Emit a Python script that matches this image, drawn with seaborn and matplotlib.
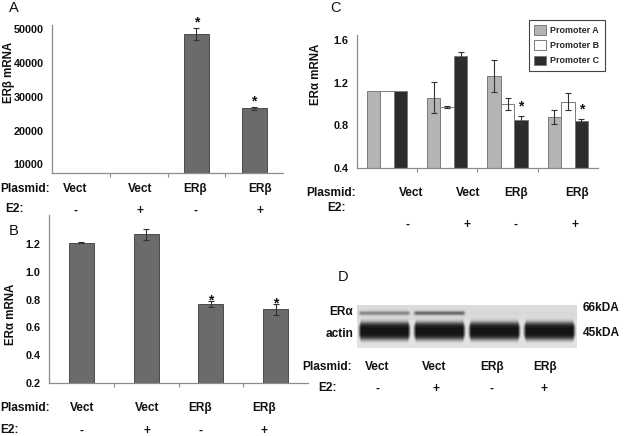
import numpy as np
import pandas as pd
import matplotlib
matplotlib.use("Agg")
import matplotlib.pyplot as plt
from matplotlib.ticker import FormatStrFormatter
from matplotlib.container import BarContainer
import seaborn as sns

# ---------------- data ----------------
conditions = ["Vect/-", "Vect/+", "ERβ/-", "ERβ/+"]
plasmid = ["Vect", "Vect", "ERβ", "ERβ"]
e2 = ["-", "+", "-", "+"]

# Panel A: ERβ mRNA
erb_mrna = [1, 1, 48500, 26600]
erb_err = [0, 0, 1800, 400]
erb_sig = [False, False, True, True]

# Panel B: ERα mRNA
era_mrna = [1.21, 1.27, 0.77, 0.73]
era_err = [0.003, 0.04, 0.02, 0.04]
era_sig = [False, False, True, True]

# Panel C: ERα promoter-specific mRNA
promoters = ["Promoter A", "Promoter B", "Promoter C"]
prom_a = [1.12, 1.06, 1.26, 0.88]
prom_b = [1.12, 0.97, 1.00, 1.02]
prom_c = [1.12, 1.45, 0.85, 0.84]
prom_a_err = [0, 0.145, 0.15, 0.067]
prom_b_err = [0, 0.01, 0.06, 0.08]
prom_c_err = [0, 0.035, 0.035, 0.015]
prom_c_sig = [False, False, True, True]

# Panel D: western blot band intensities (relative)
blot_rows = ["ERα", "actin"]
blot_markers = ["66kDA", "45kDA"]
blot_era = [0.45, 0.6, 0.03, 0.02]
blot_actin = [1.0, 1.0, 1.0, 1.0]

# ---------------- style ----------------
sns.set_theme(style="white")
plt.rcParams["font.family"] = ["Liberation Sans", "DejaVu Sans"]

W, H = 624, 436
fig = plt.figure(figsize=(W / 100, H / 100), dpi=100)
fig.patch.set_facecolor("white")

BAR = "#6b6b6b"
BAR_EDGE = "#4a4a4a"
SPINE = "#8c8c8c"
ERR = "#333333"
TXT = "#111111"
C_COLORS = ["#b4b4b4", "#ffffff", "#2c2c2c"]


def px_axes(l, t, r, b):
    return fig.add_axes([l / W, 1 - b / H, (r - l) / W, (b - t) / H])


def ftext(x, y, s, **kw):
    kw.setdefault("va", "center")
    kw.setdefault("color", TXT)
    fig.text(x / W, 1 - y / H, s, **kw)


def style_axes(ax, ylabel, lab_xy, ticks, fmt=None):
    for s in ["top", "right"]:
        ax.spines[s].set_visible(False)
    for s in ["left", "bottom"]:
        ax.spines[s].set_color(SPINE)
        ax.spines[s].set_linewidth(0.9)
    ax.set_xlabel("")
    ax.set_xlim(-0.5, 3.5)
    ax.set_xticks([0.5, 1.5, 2.5])
    ax.set_xticklabels([])
    ax.tick_params(axis="x", length=3, width=0.8, color=SPINE, direction="out", bottom=True)
    ax.set_yticks(ticks)
    if fmt:
        ax.yaxis.set_major_formatter(FormatStrFormatter(fmt))
    ax.tick_params(axis="y", length=0, pad=6, labelsize=7.8, labelcolor=TXT, left=False)
    for t in ax.get_yticklabels():
        t.set_fontweight("bold")
    ax.set_ylabel(ylabel, fontsize=8.3, fontweight="bold", color=TXT)
    ax.yaxis.set_label_coords(*lab_xy)
    ax.set_facecolor("white")


def add_errs(ax, xs, vals, errs):
    for x, v, e in zip(xs, vals, errs):
        if e > 0:
            ax.errorbar([x], [v], yerr=[e], fmt="none", ecolor=ERR,
                        elinewidth=0.8, capsize=2.2, capthick=0.8, zorder=5)


def add_stars(ax, xs, vals, errs, sig, dy):
    for x, v, e, s in zip(xs, vals, errs, sig):
        if s:
            ax.annotate("*", xy=(x, v + e), xytext=(0, dy), textcoords="offset points",
                        ha="center", va="baseline", fontsize=10, fontweight="bold",
                        color=TXT, annotation_clip=False)


def label_rows(xp, y1, y2, xs, plas_x, e2_x):
    ftext(plas_x, y1, "Plasmid:", fontsize=8.6, fontweight="bold", ha="left")
    ftext(e2_x, y2, "E2:", fontsize=8.6, fontweight="bold", ha="left")
    for x, p in zip(xs, plasmid):
        ftext(x, y1, p, fontsize=8.6, fontweight="bold", ha="center")
    for x, s in zip(xp, e2):
        ftext(x, y2 + 1, s, fontsize=8.6, fontweight="bold", ha="center")


# ---------------- Panel A ----------------
axA = px_axes(52, 25, 283, 173)
dfA = pd.DataFrame({"cond": conditions, "val": erb_mrna})
sns.barplot(data=dfA, x="cond", y="val", ax=axA, color=BAR, width=0.43,
            edgecolor=BAR_EDGE, linewidth=0.7, saturation=1, errorbar=None)
axA.set_ylim(7420, 51270)
style_axes(axA, "ERβ mRNA", (-0.16, 0.68), [10000, 20000, 30000, 40000, 50000])
xsA = [p.get_x() + p.get_width() / 2 for p in axA.patches]
add_errs(axA, xsA, erb_mrna, erb_err)
add_stars(axA, xsA, erb_mrna, erb_err, erb_sig, 1)
ftext(9, 8, "A", fontsize=10.5)
label_rows([75, 140, 195, 260], 188.5, 209.5, [75, 140, 195, 260], 0, 5)

# ---------------- Panel B ----------------
axB = px_axes(49, 215, 308, 383)
dfB = pd.DataFrame({"cond": conditions, "val": era_mrna})
sns.barplot(data=dfB, x="cond", y="val", ax=axB, color=BAR, width=0.386,
            edgecolor=BAR_EDGE, linewidth=0.7, saturation=1, errorbar=None)
axB.set_ylim(0.2, 1.41)
style_axes(axB, "ERα mRNA", (-0.124, 0.41), [0.2, 0.4, 0.6, 0.8, 1.0, 1.2], "%.1f")
xsB = [p.get_x() + p.get_width() / 2 for p in axB.patches]
add_errs(axB, xsB, era_mrna, era_err)
add_stars(axB, xsB, era_mrna, era_err, era_sig, -2.5)
ftext(9, 231, "B", fontsize=10.5)
label_rows([82, 147, 200, 264], 408, 430, [82, 147, 200, 264], 0, 0)

# ---------------- Panel C ----------------
axC = px_axes(356.7, 35, 598, 168)
dfC = pd.DataFrame({
    "cond": conditions * 3,
    "promoter": [p for p in promoters for _ in conditions],
    "val": prom_a + prom_b + prom_c,
})
sns.barplot(data=dfC, x="cond", y="val", hue="promoter", ax=axC, palette=C_COLORS,
            width=0.67, edgecolor="#7a7a7a", linewidth=0.7, saturation=1, errorbar=None)
axC.set_ylim(0.4, 1.647)
handles, labels = axC.get_legend_handles_labels()
if axC.get_legend() is not None:
    axC.get_legend().remove()
style_axes(axC, "ERα mRNA", (-0.144, 0.707), [0.4, 0.8, 1.2, 1.6], "%.1f")
series_vals = [prom_a, prom_b, prom_c]
series_errs = [prom_a_err, prom_b_err, prom_c_err]
bar_conts = [c for c in axC.containers if isinstance(c, BarContainer)]
for k, cont in enumerate(bar_conts):
    xs = [p.get_x() + p.get_width() / 2 for p in cont]
    add_errs(axC, xs, series_vals[k], series_errs[k])
    if k == 2:
        add_stars(axC, xs, prom_c, prom_c_err, prom_c_sig, 4)
leg = fig.legend(handles, labels, loc="upper left", bbox_to_anchor=(529 / W, 1 - 20 / H),
                 frameon=True, fancybox=False, edgecolor="#444444", framealpha=1,
                 prop=dict(weight="bold", size=6.4), handlelength=1.3, handleheight=1.3,
                 handletextpad=0.5, labelspacing=0.6, borderpad=0.6, borderaxespad=0)
leg.get_frame().set_linewidth(0.8)
ftext(330, 8, "C", fontsize=10.5)
ftext(306, 193, "Plasmid:", fontsize=8.6, fontweight="bold", ha="left")
ftext(327, 208, "E2:", fontsize=8.6, fontweight="bold", ha="left")
for x, p in zip([411, 468, 516, 577], plasmid):
    ftext(x, 193, p, fontsize=8.6, fontweight="bold", ha="center")
for x, s in zip([408, 467, 516, 575], e2):
    ftext(x, 225, s, fontsize=8.6, fontweight="bold", ha="center")

# ---------------- Panel D (western blot) ----------------
axD = px_axes(357.3, 305, 577.3, 348.3)
nx, ny = 880, 174
hgt = 43.3
xg = (np.arange(nx) + 0.5) / nx * len(blot_era)
yg = (np.arange(ny) + 0.5) / ny * hgt
X, Y = np.meshgrid(xg, yg)
lane = np.clip(np.floor(X), 0, len(blot_era) - 1).astype(int)
fx = X - lane
edge = np.minimum(fx, 1 - fx)
hmask = np.clip((edge - 0.015) / 0.06, 0, 1)
era_amp = np.array(blot_era)[lane]
act_amp = np.array(blot_actin)[lane]
half = 9.0 * (0.55 + 0.45 * hmask)
actin_band = np.exp(-(np.abs(Y - 26.5) / np.maximum(half, 1e-3)) ** 4) * hmask * act_amp
era_band = np.exp(-((Y - 9.0) / 2.0) ** 2) * hmask * era_amp
bg = np.where(Y < 16, 0.86, 0.89)
img = bg - (bg - 0.08) * np.clip(actin_band + era_band, 0, 1)
axD.imshow(img, cmap="gray", vmin=0, vmax=1, extent=(0, len(blot_era), hgt, 0),
           aspect="auto", interpolation="bilinear")
axD.set_xticks([])
axD.set_yticks([])
for s in axD.spines.values():
    s.set_visible(False)

ftext(338, 277, "D", fontsize=10.5)
ftext(353, 312, blot_rows[0], fontsize=8.6, fontweight="bold", ha="right")
ftext(353, 334, blot_rows[1], fontsize=8.6, fontweight="bold", ha="right")
ftext(583, 308, blot_markers[0], fontsize=8.6, fontweight="bold", ha="left")
ftext(583, 333, blot_markers[1], fontsize=8.6, fontweight="bold", ha="left")
ftext(302, 366.5, "Plasmid:", fontsize=8.6, fontweight="bold", ha="left")
ftext(318, 388, "E2:", fontsize=8.6, fontweight="bold", ha="left")
for x, p in zip([377, 434, 492, 545], plasmid):
    ftext(x, 366.5, p, fontsize=8.6, fontweight="bold", ha="center")
for x, s in zip([377, 436, 492, 544], e2):
    ftext(x, 389, s, fontsize=8.6, fontweight="bold", ha="center")

fig.savefig("out.png", dpi=100, facecolor="white")
